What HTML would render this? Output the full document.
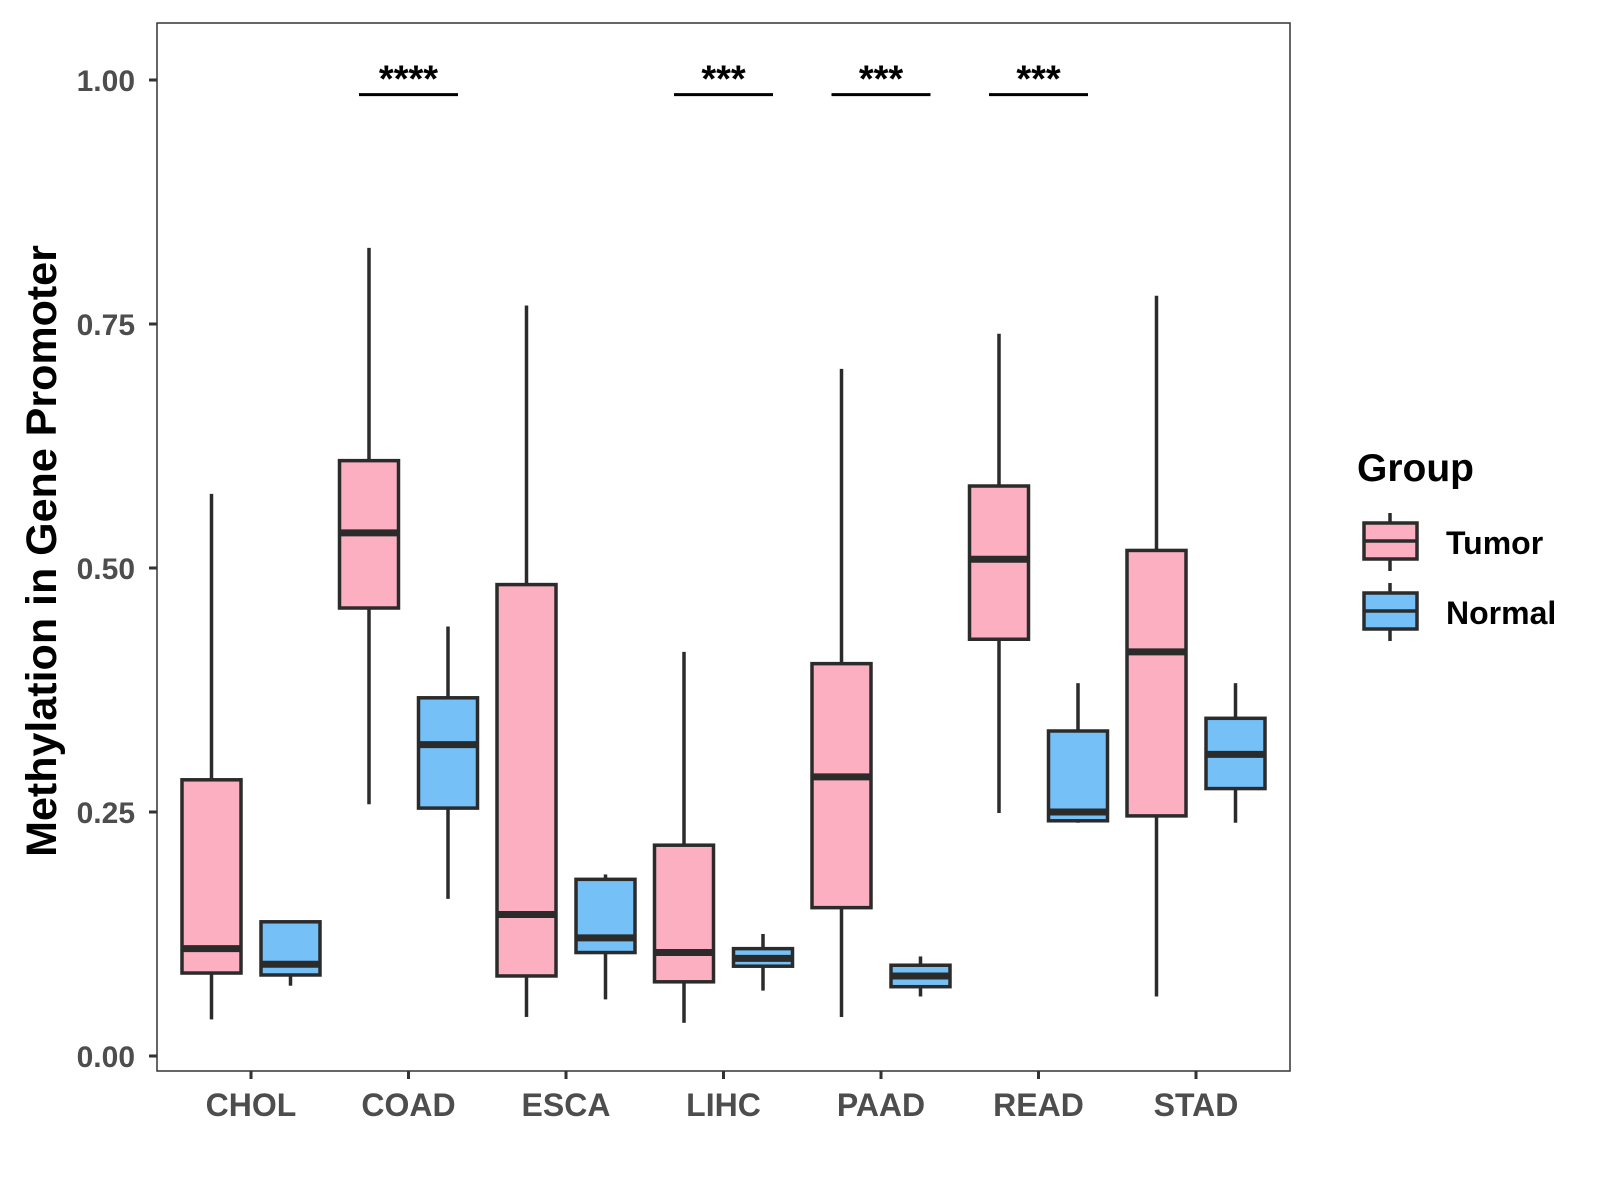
<!DOCTYPE html>
<html><head><meta charset="utf-8"><style>
html,body{margin:0;padding:0;background:#fff}
svg{display:block;font-family:"Liberation Sans",Arial,sans-serif}
</style></head><body>
<svg id="chart" width="1600" height="1200" viewBox="0 0 1600 1200">
<rect x="157" y="23" width="1133" height="1048" fill="#fff" stroke="#333" stroke-width="1.5"/>
<g id="boxes"></g>
<g id="yaxis"></g>
<g id="xaxis"></g>
<g id="sig"></g>
<text x="0" y="0" transform="translate(56,551) rotate(-90)" text-anchor="middle" font-size="43" font-weight="bold" fill="#000">Methylation in Gene Promoter</text>
<g>
<text x="1357" y="481" font-size="39" font-weight="bold" fill="#000">Group</text>
<g>
<line x1="1390" y1="513" x2="1390" y2="571" stroke="#2b2b2b" stroke-width="3.5"/>
<rect x="1364" y="523" width="53" height="36" fill="#fbafc1" stroke="#2b2b2b" stroke-width="3.5"/>
<line x1="1364" y1="541" x2="1417" y2="541" stroke="#2b2b2b" stroke-width="3.5"/>
<text x="1446" y="554" font-size="32" font-weight="bold" fill="#000">Tumor</text>
</g>
<g>
<line x1="1390" y1="583" x2="1390" y2="641" stroke="#2b2b2b" stroke-width="3.5"/>
<rect x="1364" y="593" width="53" height="36" fill="#75c0f7" stroke="#2b2b2b" stroke-width="3.5"/>
<line x1="1364" y1="611" x2="1417" y2="611" stroke="#2b2b2b" stroke-width="3.5"/>
<text x="1446" y="624" font-size="32" font-weight="bold" fill="#000">Normal</text>
</g>
</g>
</svg>
<script>
const categories = ["CHOL","COAD","ESCA","LIHC","PAAD","READ","STAD"];
// [lower whisker, Q1, median, Q3, upper whisker]
const tumorStats = [
 [0.0375,0.085,0.110,0.283,0.576],
 [0.258,0.459,0.536,0.610,0.828],
 [0.040,0.082,0.145,0.483,0.769],
 [0.034,0.076,0.106,0.216,0.414],
 [0.040,0.152,0.286,0.402,0.704],
 [0.249,0.427,0.509,0.584,0.740],
 [0.061,0.246,0.414,0.518,0.779]
];
const normalStats = [
 [0.072,0.083,0.094,0.1375,0.1375],
 [0.161,0.254,0.319,0.367,0.440],
 [0.058,0.106,0.121,0.181,0.186],
 [0.067,0.092,0.100,0.110,0.125],
 [0.061,0.071,0.082,0.093,0.102],
 [0.239,0.241,0.250,0.333,0.382],
 [0.239,0.274,0.309,0.346,0.382]
];
const yTicks = [0,0.25,0.5,0.75,1.0];
const yTickLabels = ["0.00","0.25","0.50","0.75","1.00"];
const sigCategories = ["COAD","LIHC","PAAD","READ"];
const sigLabels = ["****","***","***","***"];
const sigLevel = 0.985;

const NS="http://www.w3.org/2000/svg";
function y(v){return 1056 - v*976;}
function x(i){return 251 + i*157.5;}
function mk(tag,attrs,parent){const e=document.createElementNS(NS,tag);for(const k in attrs)e.setAttribute(k,attrs[k]);parent.appendChild(e);return e;}
const boxes=document.getElementById('boxes');
function drawBox(cx,s,fill,name){
  const g=mk('g',{},boxes);
  
  
  const w=59;
  mk('line',{x1:cx,x2:cx,y1:y(s[4]),y2:y(s[3]),stroke:'#2b2b2b','stroke-width':3.5},g);
  mk('line',{x1:cx,x2:cx,y1:y(s[1]),y2:y(s[0]),stroke:'#2b2b2b','stroke-width':3.5},g);
  mk('rect',{x:cx-w/2,y:y(s[3]),width:w,height:y(s[1])-y(s[3]),fill:fill,stroke:'#2b2b2b','stroke-width':3.5},g);
  mk('line',{x1:cx-w/2,x2:cx+w/2,y1:y(s[2]),y2:y(s[2]),stroke:'#2b2b2b','stroke-width':7},g);
}
categories.forEach((c,i)=>{
  drawBox(x(i)-39.5,tumorStats[i],'#fbafc1','box-tumor-'+c.toLowerCase());
  drawBox(x(i)+39.5,normalStats[i],'#75c0f7','box-normal-'+c.toLowerCase());
});
const ya=document.getElementById('yaxis');
yTicks.forEach((t,i)=>{
  const l=mk('line',{x1:149,x2:157,y1:y(t),y2:y(t),stroke:'#333','stroke-width':3},ya);
  
  
  const tx=mk('text',{x:135,y:y(t)+11,'text-anchor':'end','font-size':30,'font-weight':'bold',fill:'#4d4d4d'},ya);
  tx.textContent=yTickLabels[i];
  
  
});
const xa=document.getElementById('xaxis');
categories.forEach((c,i)=>{
  const l=mk('line',{x1:x(i),x2:x(i),y1:1071,y2:1079,stroke:'#333','stroke-width':3},xa);
  
  
  const tx=mk('text',{x:x(i),y:1116,'text-anchor':'middle','font-size':32,'font-weight':'bold',fill:'#4d4d4d'},xa);
  tx.textContent=c;
  
  
});
const sg=document.getElementById('sig');
sigCategories.forEach((c,j)=>{
  const i=categories.indexOf(c);
  const l=mk('line',{x1:x(i)-49.5,x2:x(i)+49.5,y1:y(sigLevel),y2:y(sigLevel),stroke:'#000','stroke-width':3},sg);
  
  
  const tx=mk('text',{x:x(i),y:y(sigLevel)-3,'text-anchor':'middle','font-size':38,'font-weight':'bold',fill:'#000'},sg);
  tx.textContent=sigLabels[j];
  
  
});
</script>
</body></html>
